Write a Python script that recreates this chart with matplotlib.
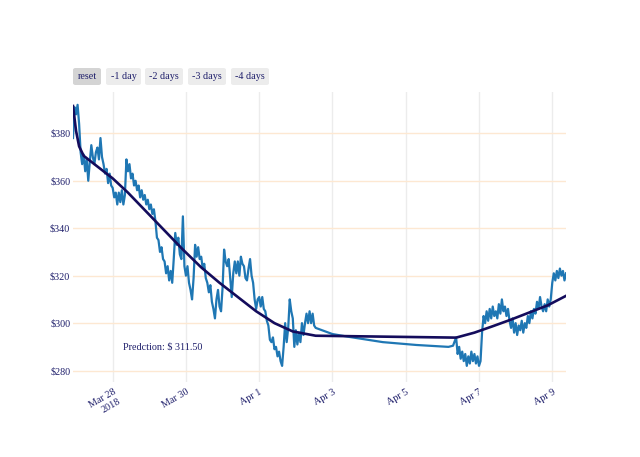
import pandas as pd
import matplotlib.pyplot as plt
from matplotlib.patches import FancyBboxPatch

plt.rcParams['font.family'] = ['Liberation Serif', 'DejaVu Serif']

TXT = '#1f1f6b'

# hourly prices, first block starts 2018-03-26 22:00
start_a = pd.Timestamp('2018-03-26 22:00')
price_a = [378, 391, 388, 392, 384, 372, 367, 371, 364, 369,
           360, 368, 375, 370, 367, 372, 374, 369, 378, 370,
           367, 363, 365, 359, 363, 358, 357, 353, 355, 350,
           355, 351, 356, 350, 354, 369, 364, 367, 361, 363,
           358, 360, 356, 358, 353, 356, 352, 354, 350, 352,
           348, 350, 346, 348, 343, 336, 335, 330, 332, 327,
           326, 321, 324, 318, 322, 317, 327, 338, 333, 336,
           329, 327, 345, 324, 320, 324, 317, 314, 310, 319,
           333, 328, 332, 327, 328, 323, 325, 319, 317, 313,
           316, 309, 306, 302, 310, 314, 307, 305, 315, 331,
           326, 324, 327, 319, 311, 321, 326, 321, 326, 320,
           328, 325, 324, 319, 318, 323, 327, 320, 317, 310,
           306, 310, 311, 307, 311, 306, 305, 301, 299, 293,
           292, 294, 289, 290, 286, 288, 284, 282, 290, 300,
           292, 298, 310, 305, 302, 290, 297, 291, 296, 292,
           300, 295, 300, 304, 300, 305, 300, 304, 299, 298]

# points on the connecting stretch (hours after start_a)
gap_hours = [170, 181, 203, 225, 246, 249]
gap_price = [295.4, 294.2, 292.0, 290.8, 290.0, 290.5]

# hourly prices, second block starts 2018-04-06 09:00
start_b = pd.Timestamp('2018-04-06 09:00')
price_b = [294, 287, 290, 285, 288, 284, 287, 282, 286, 283,
           288, 284, 287, 283, 286, 282, 284, 296, 303, 300,
           305, 301, 306, 302, 307, 303, 305, 302, 308, 304,
           310, 305, 307, 303, 306, 301, 298, 302, 296, 300,
           295, 299, 297, 301, 296, 300, 298, 303, 300, 305,
           302, 306, 304, 309, 306, 311, 307, 305, 308, 305,
           310, 307, 310, 317, 321, 318, 322, 319, 323, 320,
           322, 318, 321]

# prediction curve (hours after start_a)
pred_hours = [0, 2, 4, 7, 13, 18, 26, 36, 48, 60, 72, 84, 96, 108, 120,
              132, 144, 159, 251, 263, 275, 287, 299, 311, 323]
pred_price = [391.5, 381, 374.5, 370.5, 367.5, 365, 361, 355, 347, 339,
              331, 323.5, 317, 311, 305, 300, 296.5, 294.7, 293.9, 296,
              298.7, 301.5, 304.5, 307.5, 311.5]

tick_dates = ['2018-03-28', '2018-03-30', '2018-04-01', '2018-04-03',
              '2018-04-05', '2018-04-07', '2018-04-09']
tick_labels = ['Mar 28\n2018', 'Mar 30', 'Apr 1', 'Apr 3', 'Apr 5', 'Apr 7', 'Apr 9']
y_ticks = [280, 300, 320, 340, 360, 380]
buttons = ['reset', '-1 day', '-2 days', '-3 days', '-4 days']

t_a = start_a + pd.to_timedelta(range(len(price_a)), unit='h')
t_gap = start_a + pd.to_timedelta(gap_hours, unit='h')
t_b = start_b + pd.to_timedelta(range(len(price_b)), unit='h')
times = list(t_a) + list(t_gap) + list(t_b)
prices = price_a + gap_price + price_b
t_pred = start_a + pd.to_timedelta(pred_hours, unit='h')

fig = plt.figure(figsize=(6.4, 4.57), dpi=100)
ax = fig.add_axes([73 / 640, 1 - 382 / 457, 493 / 640, 290 / 457])

ax.plot(times, prices, color='#1f77b4', lw=1.6, zorder=3)
ax.plot(t_pred, pred_price, color='#140c5c', lw=1.9, zorder=4)

ax.set_xlim(times[0], times[-1])
ax.set_ylim(275.2, 397.4)

ax.set_xticks([pd.Timestamp(d) for d in tick_dates])
ax.set_xticklabels(tick_labels, rotation=30, ha='right', va='top',
                   rotation_mode='anchor', ma='right', fontsize=7.3, color=TXT)
ax.set_yticks(y_ticks)
ax.set_yticklabels(['$%d' % v for v in y_ticks], fontsize=7.3, color=TXT)
ax.tick_params(length=0, pad=2)
ax.tick_params(axis='x', pad=4)

ax.grid(axis='y', color='#fde8d2', lw=1)
ax.grid(axis='x', color='#ececec', lw=1)
ax.set_axisbelow(True)
for s in ax.spines.values():
    s.set_visible(False)

ax.text(pd.Timestamp('2018-03-29 09:00'), 290, 'Predction: $ 311.50',
        ha='center', va='center', fontsize=7.3, color=TXT)

# range selector buttons
bx = [73, 106, 145, 188, 231]
bw = [28, 35, 38, 38, 38]
for i, lab in enumerate(buttons):
    fc = '#d4d4d4' if i == 0 else '#ececec'
    box = FancyBboxPatch((bx[i] / 640, 1 - 85 / 457), bw[i] / 640, 17 / 457,
                         boxstyle='round,pad=0,rounding_size=0.004',
                         transform=fig.transFigure, fc=fc, ec='none')
    fig.add_artist(box)
    fig.text((bx[i] + bw[i] / 2) / 640, 1 - 76.5 / 457, lab, ha='center',
             va='center', fontsize=7.3, color=TXT)

fig.savefig('out.png', dpi=100)
